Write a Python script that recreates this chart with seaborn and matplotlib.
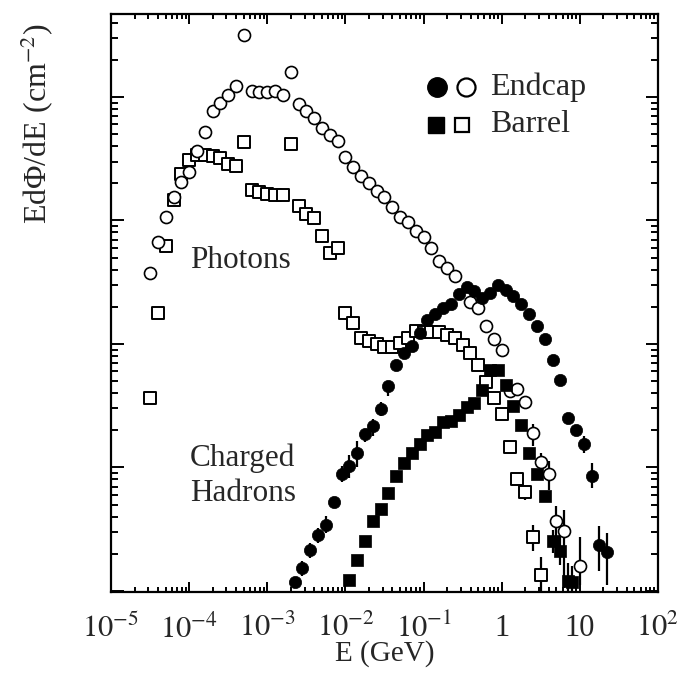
import numpy as np
import pandas as pd
import matplotlib
matplotlib.use('Agg')
import matplotlib.pyplot as plt
import matplotlib.ticker as mticker
import seaborn as sns

# energies in GeV, fluxes in arbitrary units (axis carries no numbers)
photon_endcap_E = [3.16e-5, 3.98e-5, 5.01e-5, 6.31e-5, 7.94e-5, 1.0e-4, 1.26e-4, 1.58e-4, 2.0e-4, 2.51e-4,
                   3.16e-4, 3.98e-4, 5.01e-4, 6.31e-4, 7.94e-4, 1.0e-3, 1.26e-3, 1.58e-3, 2.0e-3, 2.51e-3,
                   3.16e-3, 3.98e-3, 5.01e-3, 6.31e-3, 7.94e-3, 0.01, 0.0126, 0.0158, 0.02, 0.0251,
                   0.0316, 0.0398, 0.0501, 0.0631, 0.0794, 0.1, 0.126, 0.158, 0.2, 0.251,
                   0.398, 0.501, 0.631, 0.794, 1.0, 1.26, 1.58, 2.0, 2.51, 3.16,
                   3.98, 5.01, 6.31, 10.0]
photon_endcap_flux = [374, 665, 1057, 1563, 2065, 2483, 3673, 5224, 7709, 8954,
                      10375, 12274, 31623, 11169, 10965, 10965, 11169, 10375, 15922, 8790,
                      7709, 6776, 5623, 4898, 4416, 3281, 2723, 2307, 2023, 1746,
                      1563, 1297, 1076, 964, 815, 729, 600, 467, 410, 356,
                      219, 194, 139, 109, 89.5, 41.4, 43.4, 34.0, 19.0, 11.0,
                      8.8, 3.67, 3.08, 1.60]

photon_barrel_E = [3.16e-5, 3.98e-5, 5.01e-5, 6.31e-5, 7.94e-5, 1.0e-4, 1.26e-4, 1.58e-4, 2.0e-4, 2.51e-4,
                   3.16e-4, 3.98e-4, 5.01e-4, 6.31e-4, 7.94e-4, 1.0e-3, 1.26e-3, 1.58e-3, 2.0e-3, 2.51e-3,
                   3.16e-3, 3.98e-3, 5.01e-3, 6.31e-3, 7.94e-3, 0.01, 0.0126, 0.0158, 0.02, 0.0251,
                   0.0316, 0.0398, 0.0501, 0.0631, 0.0794, 0.1, 0.126, 0.158, 0.2, 0.251,
                   0.316, 0.398, 0.501, 0.631, 0.794, 1.0, 1.26, 1.58, 2.0, 2.51,
                   3.16]
photon_barrel_flux = [36.5, 178, 621, 1476, 2393, 3063, 3373, 3373, 3311, 3192,
                      2884, 2780, 4315, 1754, 1714, 1652, 1622, 1607, 4159, 1306,
                      1132, 1038, 747, 549, 603, 178, 147, 111, 106, 100,
                      93.7, 94, 101, 112, 128, 124, 126, 126, 119, 111,
                      98, 84.6, 67.1, 49.4, 36.5, 27.0, 14.5, 8.08, 6.29, 2.71,
                      1.35]

hadron_endcap_E = [2.24e-3, 2.82e-3, 3.55e-3, 4.47e-3, 5.62e-3, 7.08e-3, 8.91e-3, 0.0112, 0.0141, 0.0178,
                   0.0224, 0.0282, 0.0355, 0.0447, 0.0562, 0.0708, 0.0891, 0.112, 0.141, 0.178,
                   0.224, 0.282, 0.355, 0.447, 0.562, 0.708, 0.891, 1.12, 1.41, 1.78,
                   2.24, 2.82, 3.55, 4.47, 5.62, 7.08, 8.91, 11.2, 14.1, 17.8,
                   22.4]
hadron_endcap_flux = [1.18, 1.53, 2.15, 2.84, 3.42, 5.29, 8.78, 10.3, 13.2, 18.6,
                      21.7, 29.9, 45.3, 67.7, 84.2, 96.9, 122, 155, 175, 195,
                      210, 253, 288, 266, 235, 257, 302, 272, 244, 211,
                      175, 140, 110, 74.7, 51.0, 25.2, 20.1, 15.5, 8.54, 2.36,
                      2.06]

hadron_barrel_E = [0.0112, 0.0141, 0.0178, 0.0224, 0.0282, 0.0355, 0.0447, 0.0562, 0.0708, 0.0891,
                   0.112, 0.141, 0.178, 0.224, 0.282, 0.355, 0.447, 0.562, 0.708, 0.891,
                   1.12, 1.41, 1.78, 2.24, 2.82, 3.55, 4.47, 5.62, 7.08, 7.94]
hadron_barrel_flux = [1.23, 1.79, 2.52, 3.65, 4.59, 6.25, 8.51, 10.8, 13.0, 15.4,
                      18.2, 19.4, 23.4, 23.9, 26.4, 30.9, 33.4, 42.6, 61.7, 61.7,
                      46.1, 31.3, 22.2, 13.1, 8.83, 5.89, 2.52, 2.12, 1.20, 1.18]

# error bars (low / high edges) where they are visible
photon_endcap_err_E = [2.51, 3.16, 3.98, 5.01, 6.31, 10.0]
photon_endcap_err_lo = [15.0, 8.62, 6.53, 2.68, 1.06, 1.12]
photon_endcap_err_hi = [22.6, 13.2, 11.2, 4.85, 4.5, 2.73]

photon_barrel_err_E = [2.0, 2.51, 3.16]
photon_barrel_err_lo = [5.42, 2.09, 0.9]
photon_barrel_err_hi = [7.03, 3.43, 1.88]

hadron_endcap_err_E = [2.82e-3, 3.55e-3, 4.47e-3, 5.62e-3, 8.91e-3, 0.0112, 0.0141, 0.0178, 0.0224, 0.0282,
                       0.0355, 11.2, 14.1, 17.8, 22.4]
hadron_endcap_err_lo = [1.32, 1.85, 2.44, 2.94, 7.57, 8.15, 10.0, 16.2, 18.1, 26.3,
                        38.1, 13.0, 6.77, 1.45, 1.12]
hadron_endcap_err_hi = [1.75, 2.44, 3.22, 4.03, 10.2, 12.5, 16.5, 20.6, 24.8, 34.1,
                        50.3, 18.1, 10.8, 3.34, 2.94]

hadron_barrel_err_E = [4.47, 5.62, 7.08, 7.94]
hadron_barrel_err_lo = [2.02, 1.62, 0.9, 0.9]
hadron_barrel_err_hi = [3.1, 2.83, 1.68, 1.6]

xtick_values = [1e-5, 1e-4, 1e-3, 1e-2, 1e-1, 1, 10, 100]
xtick_labels = [r'$10^{-5}$', r'$10^{-4}$', r'$10^{-3}$', r'$10^{-2}$', r'$10^{-1}$', '1', '10', r'$10^{2}$']

sns.set_style('ticks')
plt.rcParams['font.family'] = ['Liberation Serif', 'DejaVu Serif']
plt.rcParams['mathtext.fontset'] = 'stix'

fig = plt.figure(figsize=(6.78, 6.73), dpi=100)
ax = fig.add_axes([0.1637, 0.1204, 0.8068, 0.8588])
ax.set_xscale('log')
ax.set_yscale('log')

# error bars behind the markers
for xs, lo, hi in [(photon_endcap_err_E, photon_endcap_err_lo, photon_endcap_err_hi),
                   (photon_barrel_err_E, photon_barrel_err_lo, photon_barrel_err_hi),
                   (hadron_endcap_err_E, hadron_endcap_err_lo, hadron_endcap_err_hi),
                   (hadron_barrel_err_E, hadron_barrel_err_lo, hadron_barrel_err_hi)]:
    ax.vlines(xs, lo, hi, color='black', lw=1.6, zorder=1)

sns.scatterplot(x=photon_barrel_E, y=photon_barrel_flux, marker='s', s=72,
                facecolor='white', edgecolor='black', linewidth=1.4, ax=ax, zorder=3)
sns.scatterplot(x=photon_endcap_E, y=photon_endcap_flux, marker='o', s=75,
                facecolor='white', edgecolor='black', linewidth=1.2, ax=ax, zorder=3)
sns.scatterplot(x=hadron_endcap_E, y=hadron_endcap_flux, marker='o', s=78,
                facecolor='black', edgecolor='black', linewidth=0.5, ax=ax, zorder=4)
sns.scatterplot(x=hadron_barrel_E, y=hadron_barrel_flux, marker='s', s=65,
                facecolor='black', edgecolor='black', linewidth=0.5, ax=ax, zorder=4)

ax.set_xlim(1e-5, 1e2)
ax.set_ylim(0.98, 4.7e4)
ax.set_xticks(xtick_values)
ax.set_xticklabels(xtick_labels)
ax.xaxis.set_minor_locator(mticker.LogLocator(base=10, subs=np.arange(2, 10), numticks=20))
ax.xaxis.set_minor_formatter(mticker.NullFormatter())
ax.yaxis.set_major_formatter(mticker.NullFormatter())
ax.yaxis.set_minor_formatter(mticker.NullFormatter())

ax.tick_params(axis='both', which='both', direction='in', top=True, right=True, width=1.4, color='black')
ax.tick_params(axis='x', which='major', length=7, labelsize=22, pad=16)
ax.tick_params(axis='x', which='minor', length=3.5)
ax.tick_params(axis='y', which='major', length=9)
ax.tick_params(axis='y', which='minor', length=5)
for sp in ax.spines.values():
    sp.set_linewidth(1.6)
    sp.set_color('black')

ax.set_xlabel('E (GeV)', fontsize=21, labelpad=-3)
ax.set_ylabel(r'EdΦ/dE (cm$^{-2}$)', fontsize=23)
ax.yaxis.set_label_coords(-0.10, 0.81)

ax.text(0.144, 0.574, 'Photons', transform=ax.transAxes, fontsize=22.5, va='center', ha='left')
ax.text(0.144, 0.232, 'Charged', transform=ax.transAxes, fontsize=22.5, va='center', ha='left')
ax.text(0.144, 0.171, 'Hadrons', transform=ax.transAxes, fontsize=22.5, va='center', ha='left')

# hand-made legend
ax.plot([0.596], [0.874], 'o', ms=14, color='black', transform=ax.transAxes, clip_on=False)
ax.plot([0.649], [0.874], 'o', ms=13, mfc='white', mec='black', mew=1.6, transform=ax.transAxes, clip_on=False)
ax.plot([0.594], [0.808], 's', ms=12, color='black', transform=ax.transAxes, clip_on=False)
ax.plot([0.642], [0.808], 's', ms=10.5, mfc='white', mec='black', mew=1.6, transform=ax.transAxes, clip_on=False)
ax.text(0.693, 0.874, 'Endcap', transform=ax.transAxes, fontsize=23, va='center', ha='left')
ax.text(0.693, 0.808, 'Barrel', transform=ax.transAxes, fontsize=23, va='center', ha='left')

fig.savefig('out.png', dpi=100)
